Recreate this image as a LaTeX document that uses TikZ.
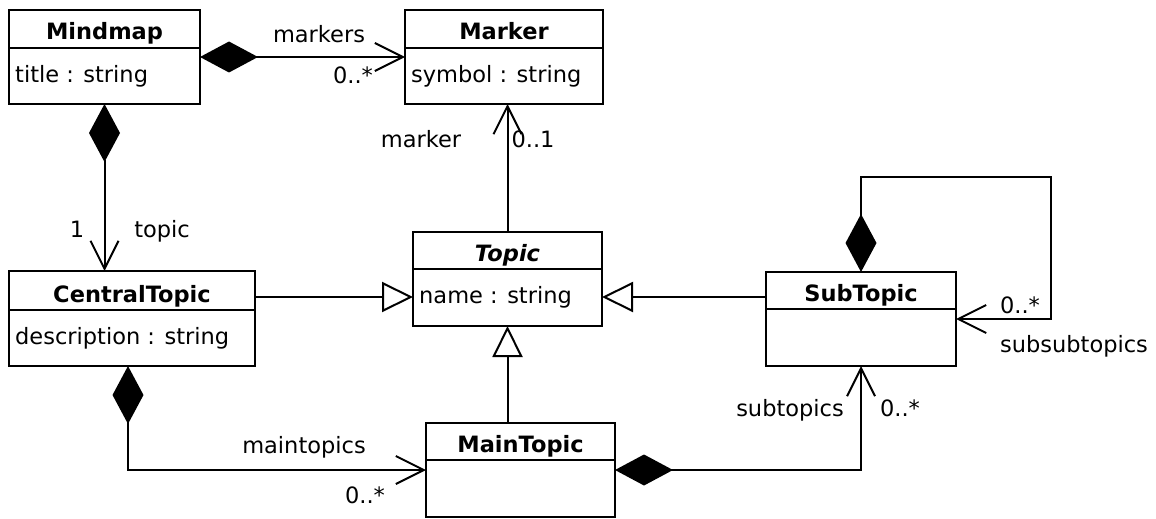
\documentclass[tikz,border=0pt]{standalone}
\usepackage{fontspec}
\setmainfont{DejaVu Sans}
\usetikzlibrary{arrows.meta}

\tikzset{
  classbox/.style={draw, line width=2pt, inner sep=0pt, outer sep=0pt, anchor=north west},
  conn/.style={draw, line width=2pt, line join=miter},
  txt/.style={font=\fontsize{22.5}{27}\selectfont, inner sep=0pt, anchor=base},
  attrtxt/.style={txt, anchor=base west},
  diamondtip/.tip={Diamond[length=58pt,width=31pt]},
  opentip/.tip={Straight Barb[length=28pt,width=28pt]},
  gentip/.tip={Triangle[open,length=31pt,width=30pt]},
}

% class box: name, x, y, width, height, header height, title
\newcommand\umlclass[7]{%
  \node[classbox, minimum width=#4pt, minimum height=#5pt] (#1) at (#2,#3) {};
  \draw[conn] ([yshift=-#6pt]#1.north west) -- ([yshift=-#6pt]#1.north east);
  \node[txt] (#1-title) at ([yshift=-#6pt+8pt]#1.north) {\textbf{#7}};
}
% attribute line: class name, header height, text
\newcommand\umlattr[3]{%
  \node[attrtxt] (#1-attr) at ([xshift=6pt,yshift=-#2pt-34pt]#1.north west) {#3};
}

\begin{document}
\begin{tikzpicture}[x=1pt,y=-1pt]
\useasboundingbox (0,0) rectangle (1156,519);

% classes
\umlclass{mindmap}{9}{10}{191}{94}{38}{Mindmap}
\umlattr{mindmap}{38}{title : string}
\umlclass{marker}{405}{10}{198}{94}{38}{Marker}
\umlattr{marker}{38}{symbol : string}
\umlclass{central}{9}{271}{246}{95}{39}{CentralTopic}
\umlattr{central}{39}{description : string}
\umlclass{topic}{413}{232}{189}{94}{37}{\textit{Topic}}
\umlattr{topic}{37}{name : string}
\umlclass{subtopic}{766}{272}{190}{94}{37}{SubTopic}
\umlclass{maintopic}{426}{423}{189}{94}{37}{MainTopic}

% helper points
\coordinate (genline) at (0,297);
\coordinate (loopcorner) at (1051,177);

% Mindmap -> Marker
\draw[conn, diamondtip-opentip] (mindmap.east) -- (marker.west);
\node[txt] (l-markers) at (319,43) {markers};
\node[txt] (m-markers) at (353,83) {0..*};

% Mindmap -> CentralTopic
\draw[conn, diamondtip-opentip] (mindmap.south) -- (mindmap.south |- central.north);
\node[txt] (m-topic) at (77,237) {1};
\node[txt] (l-topic) at (162,237) {topic};

% Topic -> Marker
\draw[conn, -opentip] (topic.north) -- (topic.north |- marker.south);
\node[txt] (l-marker) at (421,147) {marker};
\node[txt] (m-marker) at (533,147) {0..1};

% generalizations
\draw[conn, -gentip] (central.east |- genline) -- (topic.west |- genline);
\draw[conn, -gentip] (subtopic.west |- genline) -- (topic.east |- genline);
\draw[conn, -gentip] (maintopic.north -| topic.south) -- (topic.south);

% CentralTopic -> MainTopic
\draw[conn, diamondtip-opentip] ([xshift=-4pt]central.south) |- (maintopic.west);
\node[txt] (l-maintopics) at (304,453) {maintopics};
\node[txt] (m-maintopics) at (365,503) {0..*};

% MainTopic -> SubTopic
\draw[conn, diamondtip-opentip] (maintopic.east) -| (subtopic.south);
\node[txt] (l-subtopics) at (790,416) {subtopics};
\node[txt] (m-subtopics) at (900,416) {0..*};

% SubTopic -> SubTopic
\draw[conn, diamondtip-opentip] (subtopic.north) |- (loopcorner) |- (subtopic.east);
\node[txt] (m-subsub) at (1020,313) {0..*};
\node[txt] (l-subsub) at (1074,352) {subsubtopics};

\end{tikzpicture}
\end{document}
